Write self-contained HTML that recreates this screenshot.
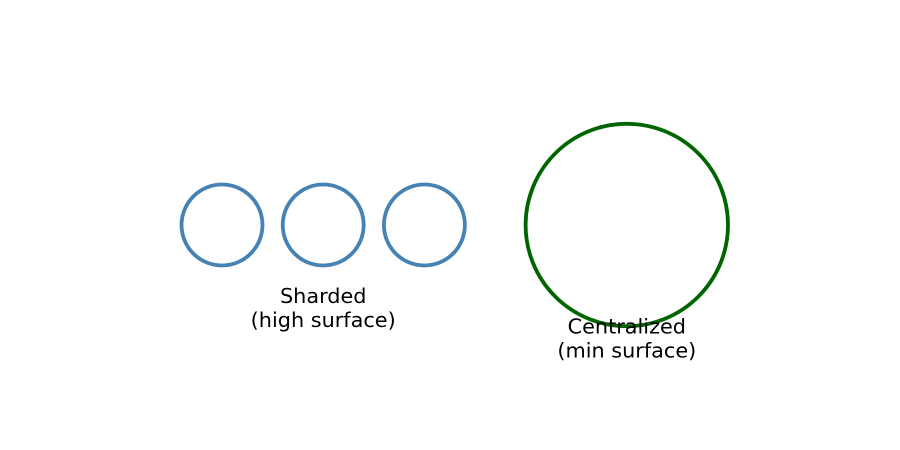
<!DOCTYPE html>
<html>
<head>
<meta charset="utf-8">
<style>
  html, body { margin: 0; padding: 0; background: #ffffff; }
  svg { display: block; }
  text { font-family: "DejaVu Sans", "Liberation Sans", sans-serif; font-size: 20.8px; fill: #000; }
</style>
</head>
<body>
<svg id="chart" width="900" height="450" viewBox="0 0 900 450"></svg>
<script>
// Data
const groupNames = ["sharded", "centralized"];
const groupLabels = [["Sharded", "(high surface)"], ["Centralized", "(min surface)"]];
const circleGroup = [0, 0, 0, 1];
const circleX = [1, 2, 3, 5];        // data-unit positions
const circleRadius = [0.4, 0.4, 0.4, 1.0]; // data-unit radii
const groupColors = ["#4682b4", "#006400"];
const labelX = [2, 5];
const labelY = [-0.77, -1.07];

// Axis functions (data -> pixels)
const unit = 101.2;
const xScale = v => 222 + (v - 1) * unit;
const yScale = v => 225 - v * unit;
const rScale = v => v * unit;

const svg = document.getElementById('chart');
const NS = 'http://www.w3.org/2000/svg';

for (let i = 0; i < circleX.length; i++) {
  const c = document.createElementNS(NS, 'circle');
  c.setAttribute('cx', xScale(circleX[i]));
  c.setAttribute('cy', yScale(0));
  c.setAttribute('r', rScale(circleRadius[i]));
  c.setAttribute('fill', 'none');
  c.setAttribute('stroke', groupColors[circleGroup[i]]);
  c.setAttribute('stroke-width', '3.8');
  
  
  svg.appendChild(c);
}

for (let g = 0; g < groupLabels.length; g++) {
  const t = document.createElementNS(NS, 'text');
  t.setAttribute('x', xScale(labelX[g]));
  t.setAttribute('y', yScale(labelY[g]));
  t.setAttribute('text-anchor', 'middle');
  
  
  groupLabels[g].forEach((line, k) => {
    const s = document.createElementNS(NS, 'tspan');
    s.setAttribute('x', xScale(labelX[g]));
    s.setAttribute('dy', k === 0 ? '0' : '24');
    s.textContent = line;
    t.appendChild(s);
  });
  svg.appendChild(t);
}
</script>
</body>
</html>
